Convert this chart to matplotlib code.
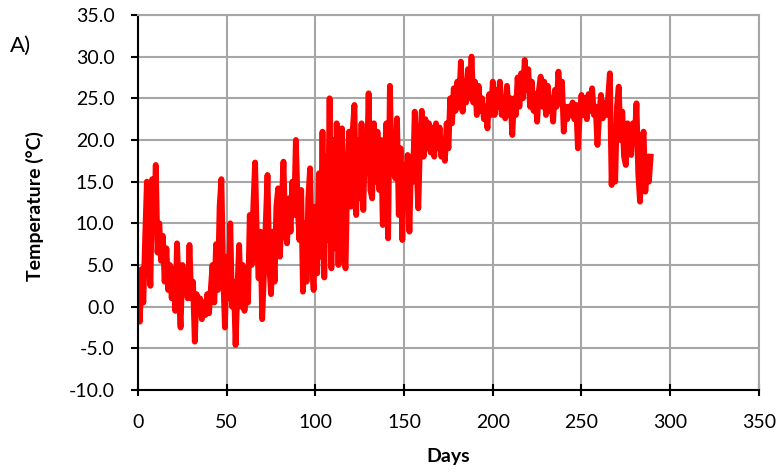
import numpy as np
import matplotlib
matplotlib.use("Agg")
import matplotlib.pyplot as plt

FS = 14
matplotlib.rcParams['font.family'] = ['Lato', 'DejaVu Sans']

# daily temperature, day 0 .. 289
temp = [
    2.0, -1.8, 4.5, 0.5, 8.0, 15.0, 6.0, 2.5, 15.3, 9.0,
    17.0, 6.5, 10.0, 5.5, 8.5, 3.0, 7.0, 2.0, 5.0, 1.0,
    4.5, -0.5, 7.6, 1.5, -2.5, 5.0, 2.5, 4.0, 1.0, 7.4,
    1.0, 3.0, -4.2, 1.5, -0.5, 1.0, -1.5, 0.5, -1.0, 1.5,
    -0.8, 2.0, 5.0, 0.5, 7.5, 2.0, 12.0, 15.3, 4.0, -2.5,
    6.0, 1.0, 10.0, 0.0, 3.0, -4.6, 2.0, 7.4, 0.0, 5.0,
    -0.5, 2.0, 0.5, 11.0, 5.0, 12.0, 17.3, 8.0, 3.4, 9.0,
    -1.5, 4.0, 10.0, 15.8, 5.0, 1.5, 9.0, 3.0, 12.0, 14.2,
    6.0, 12.0, 17.4, 9.0, 7.6, 13.0, 9.0, 15.0, 11.0, 20.0,
    12.0, 8.0, 14.0, 1.8, 10.0, 3.0, 13.0, 16.6, 6.0, 2.0,
    12.0, 4.0, 16.0, 6.0, 21.0, 3.5, 18.0, 8.0, 25.0, 4.6,
    20.0, 7.0, 22.0, 5.0, 18.0, 21.4, 6.0, 4.6, 16.0, 21.0,
    12.0, 21.0, 24.2, 11.0, 20.0, 13.0, 22.0, 11.6, 20.0, 16.0,
    25.6, 14.0, 13.0, 22.0, 15.0, 21.0, 14.0, 20.0, 9.8, 17.0,
    22.0, 8.2, 26.5, 16.0, 20.0, 15.4, 22.6, 11.0, 19.0, 8.0,
    17.0, 13.0, 18.2, 9.0, 18.0, 15.0, 23.4, 17.0, 11.8, 20.0,
    23.5, 18.0, 22.5, 19.0, 22.0, 18.5, 21.5, 18.0, 22.0, 19.0,
    21.5, 18.0, 20.0, 17.5, 22.0, 19.0, 25.0, 22.0, 26.2, 23.5,
    27.0, 24.0, 29.4, 23.4, 27.0, 24.5, 28.5, 25.0, 30.0, 24.5,
    27.0, 23.0, 26.5, 23.5, 25.0, 22.5, 24.0, 21.4, 25.5, 23.0,
    27.0, 23.0, 26.0, 24.0, 27.0, 23.0, 25.0, 22.6, 26.5, 23.0,
    25.0, 20.6, 25.0, 23.0, 27.5, 24.0, 28.0, 25.0, 29.6, 26.0,
    28.5, 24.0, 27.0, 23.5, 25.5, 22.2, 26.0, 27.6, 24.0, 27.0,
    23.0, 26.5, 23.5, 25.0, 22.2, 26.0, 24.0, 28.2, 25.0, 27.0,
    21.0, 24.0, 22.5, 24.0, 23.0, 24.5, 22.5, 24.2, 19.0, 23.0,
    25.4, 23.0, 25.0, 22.5, 25.5, 23.5, 26.2, 23.0, 24.0, 19.4,
    23.0, 25.4, 22.6, 24.5, 23.0, 25.0, 28.0, 14.6, 21.0, 15.0,
    24.0, 26.4, 20.0, 23.4, 18.0, 17.0, 22.0, 19.0, 18.2, 22.0,
    20.0, 24.4, 16.0, 12.6, 19.0, 21.0, 13.8, 18.0, 15.0, 18.0,
]
days = np.arange(len(temp))

xticks = [0, 50, 100, 150, 200, 250, 300, 350]
yticks = [-10, -5, 0, 5, 10, 15, 20, 25, 30, 35]

fig = plt.figure(figsize=(7.78, 4.74), dpi=100)
ax = fig.add_axes([0.1774, 0.1772, 0.798, 0.7912])

ax.plot(days, temp, color='#ff0000', linewidth=4.2, solid_joinstyle='round')

ax.set_xlim([0, 350])
ax.set_ylim([-10, 35])
ax.set_xticks(xticks)
ax.set_yticks(yticks)
ax.set_yticklabels(["%.1f" % v for v in yticks])
ax.grid(which="major", color="#a6a6a6", linewidth=1.5)
ax.set_axisbelow(True)

for s in ['top', 'right']:
    ax.spines[s].set_color('#a6a6a6')
    ax.spines[s].set_linewidth(1.5)
for s in ['left', 'bottom']:
    ax.spines[s].set_color('black')
    ax.spines[s].set_linewidth(1.5)

ax.tick_params(axis='both', labelsize=FS, direction='inout', length=8, width=1.5,
               color='black', labelcolor='black')
ax.tick_params(axis='x', pad=13)
ax.tick_params(axis='y', direction='out', length=5, pad=12)

ax.set_xlabel('Days', fontsize=FS, fontweight='bold')
ax.set_ylabel('Temperature (\u00b0C)', fontsize=FS, fontweight='bold')
ax.xaxis.set_label_coords(0.5, -0.155)
ax.yaxis.set_label_coords(-0.152, 0.49)

fig.text(10 / 778, 1 - 52 / 474, 'A)', fontsize=16)

plt.savefig("out.png", dpi=100)
